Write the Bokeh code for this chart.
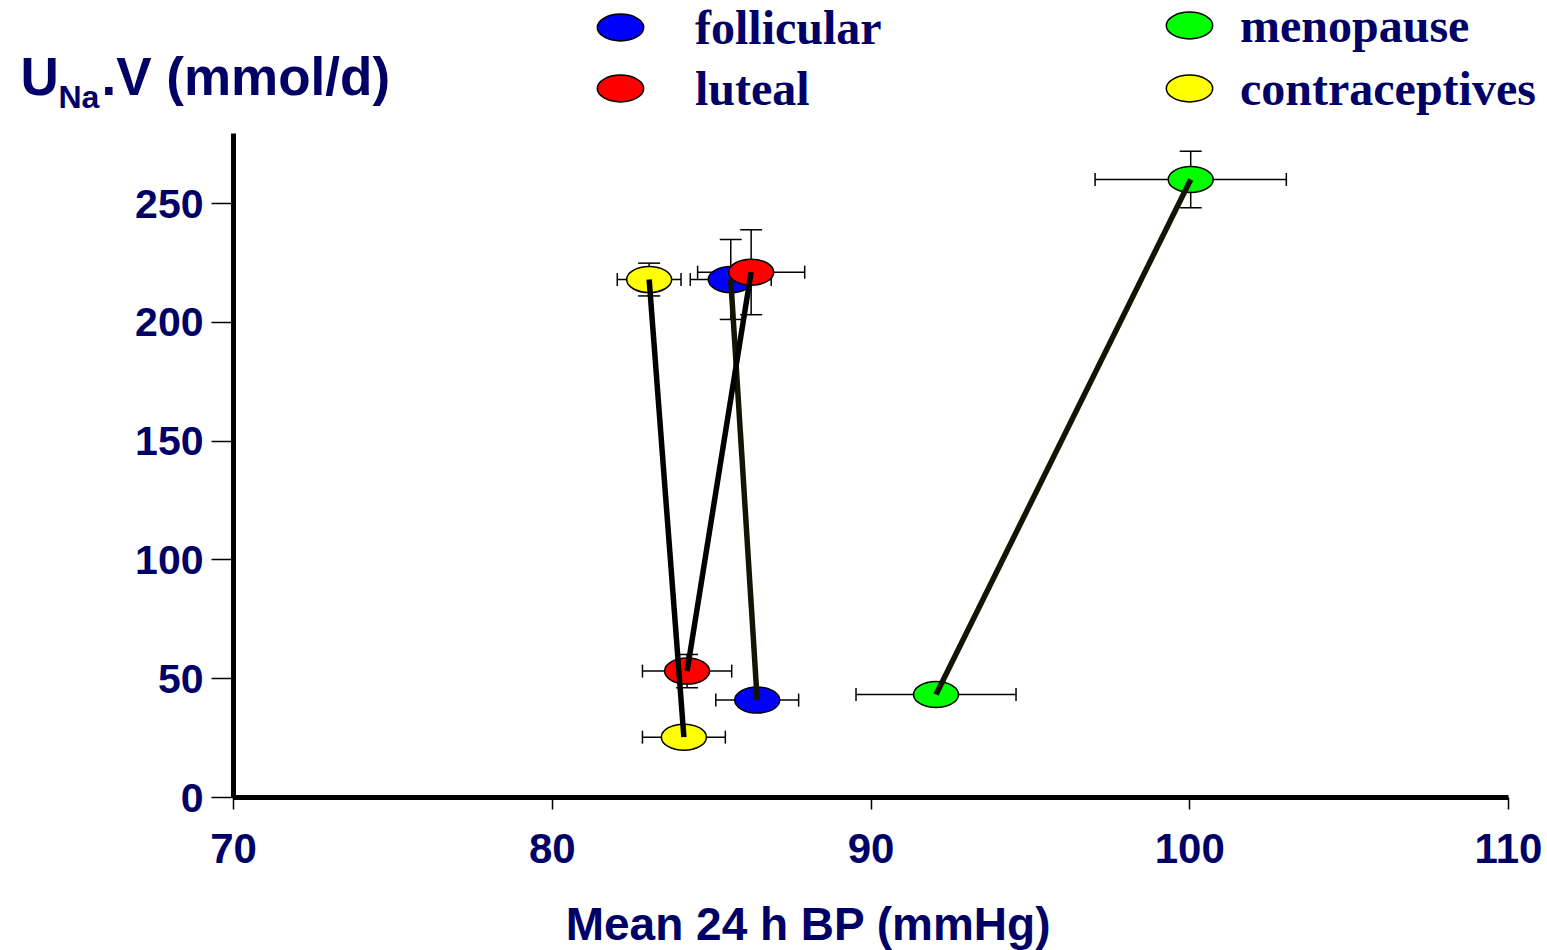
from bokeh.plotting import figure
from bokeh.models import (ColumnDataSource, Whisker, TeeHead, Range1d, FixedTicker,
                          LinearAxis, Legend, LegendItem, Label)
from bokeh.embed import file_html
from bokeh.resources import INLINE

# Groups of women, each measured on high and low sodium intake
groups = ["follicular", "luteal", "menopause", "contraceptives"]
fill_colors = ["#0000ff", "#ff0000", "#00ff00", "#ffff00"]
link_colors = ["#141404", "#000000", "#141404", "#000000"]

# Mean 24 h BP (mmHg) and its SEM
bp_high = [85.6, 86.24, 100.03, 83.04]
bp_high_err = [1.27, 1.68, 3.0, 1.0]
bp_low = [86.43, 84.23, 92.04, 84.13]
bp_low_err = [1.30, 1.40, 2.51, 1.30]

# Urinary sodium excretion U_Na.V (mmol/d) and its SEM
una_high = [218.0, 221.1, 260.1, 218.0]
una_high_err = [16.8, 17.9, 11.9, 6.9]
una_low = [41.0, 53.2, 43.35, 25.4]
una_low_err = [4.0, 7.0, 4.0, 4.0]

x_ticks = [70, 80, 90, 100, 110]
y_ticks = [0, 50, 100, 150, 200, 250]
x_bounds = (70, 110)
y_bounds = (0, 279.5)

NAVY = "#000066"
SANS = "Liberation Sans"
SERIF = "Liberation Serif"
W, H = 1547, 950

# The frame fills the whole canvas; the axes sit at fixed data positions
# so that the titles and the legend can live in the same drawing area.
p = figure(width=W, height=H,
           x_range=Range1d(62.690, 111.2235), y_range=Range1d(-64.39, 335.44),
           x_axis_type=None, y_axis_type=None,
           output_backend="svg", toolbar_location=None, min_border=0)
p.outline_line_color = None
p.xgrid.visible = False
p.ygrid.visible = False

xaxis = LinearAxis(fixed_location=y_bounds[0], bounds=x_bounds,
                   ticker=FixedTicker(ticks=x_ticks))
yaxis = LinearAxis(fixed_location=x_bounds[0], bounds=y_bounds,
                   ticker=FixedTicker(ticks=y_ticks))
for ax, tick_len, size, standoff in ((xaxis, 12, "42px", 24), (yaxis, 22, "41px", 8)):
    ax.axis_line_width = 5
    ax.axis_line_color = "black"
    ax.major_tick_line_width = 1.5
    ax.major_tick_out = tick_len
    ax.major_tick_in = 0
    ax.minor_tick_line_color = None
    ax.major_label_text_font = SANS
    ax.major_label_text_font_style = "bold"
    ax.major_label_text_font_size = size
    ax.major_label_text_color = NAVY
    ax.major_label_standoff = standoff
p.add_layout(xaxis, "below")
p.add_layout(yaxis, "left")

# Error bars (beneath the markers)
for i in range(len(groups)):
    xs = ColumnDataSource(dict(
        y=[una_high[i], una_low[i]],
        lo=[bp_high[i] - bp_high_err[i], bp_low[i] - bp_low_err[i]],
        hi=[bp_high[i] + bp_high_err[i], bp_low[i] + bp_low_err[i]]))
    ys = ColumnDataSource(dict(
        x=[bp_high[i], bp_low[i]],
        lo=[una_high[i] - una_high_err[i], una_low[i] - una_low_err[i]],
        hi=[una_high[i] + una_high_err[i], una_low[i] + una_low_err[i]]))
    p.add_layout(Whisker(source=xs, base="y", lower="lo", upper="hi", dimension="width",
                         line_width=1.5, line_color="black",
                         lower_head=TeeHead(size=13, line_width=1.5),
                         upper_head=TeeHead(size=13, line_width=1.5)))
    p.add_layout(Whisker(source=ys, base="x", lower="lo", upper="hi", dimension="height",
                         line_width=1.5, line_color="black",
                         lower_head=TeeHead(size=22, line_width=1.5),
                         upper_head=TeeHead(size=22, line_width=1.5)))

# Markers
markers = []
for i in range(len(groups)):
    src = ColumnDataSource(dict(x=[bp_high[i], bp_low[i]], y=[una_high[i], una_low[i]]))
    markers.append(p.ellipse(x="x", y="y", width=45, height=26, width_units="screen",
                             height_units="screen", source=src, fill_color=fill_colors[i],
                             line_color="black", line_width=1.5))

# Links between the high and low sodium condition of each group
p.segment(x0=bp_high, y0=una_high, x1=bp_low, y1=una_low,
          line_width=5.5, line_color=link_colors)


# Legend in two columns across the top
def add_legend(idx, loc, spacing, standoff):
    p.add_layout(Legend(
        items=[LegendItem(label=groups[i], renderers=[markers[i]]) for i in idx],
        location=loc, orientation="vertical", spacing=spacing,
        glyph_width=58, glyph_height=58, label_standoff=standoff,
        padding=0, margin=0, border_line_color=None, background_fill_alpha=0,
        label_text_font=SERIF, label_text_font_style="bold",
        label_text_font_size="48px", label_text_color=NAVY))


add_legend([0, 1], (591, 833), 3, 46)
add_legend([2, 3], (1160, 833), 5, 22)

# Axis titles (screen positions measured from the bottom-left corner)
titles = [("U", 20, 874, "53px", "left"),
          ("Na", 58, 854, "32px", "left"),
          (".V (mmol/d)", 101, 874, "53px", "left"),
          ("Mean 24 h BP (mmHg)", 808, 27, "46px", "center")]
for txt, sx, sy, size, align in titles:
    p.add_layout(Label(x=sx, y=sy, x_units="screen", y_units="screen", text=txt,
                       text_font=SANS, text_font_style="bold", text_font_size=size,
                       text_color=NAVY, text_baseline="alphabetic", text_align=align))

open("out.html", "w").write(file_html(p, INLINE))
